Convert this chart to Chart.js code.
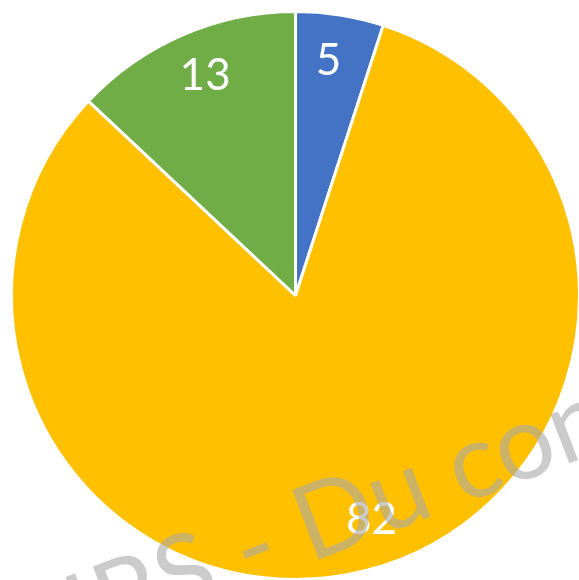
<!DOCTYPE html>
<html>
<head>
<meta charset="utf-8">
<script src="https://cdn.jsdelivr.net/npm/chart.js@4"></script>
<style>
  html, body { margin: 0; padding: 0; background: #fff; overflow: hidden; }
  #wrap { width: 581px; height: 581px; }
</style>
</head>
<body>
<div id="wrap"><canvas id="mc"></canvas></div>
<script>
const labels = ['A', 'B', 'C'];
const values = [5, 82, 13];
const colors = ['#4472C4', '#FFC000', '#70AD47'];
const watermark = ['IRS - ', 'Du con'];

// white value labels inside each slice
const sliceLabels = {
    id: 'sliceLabels',
    afterDatasetsDraw(chart, args, opts) {
        const g = chart.ctx;
        const meta = chart.getDatasetMeta(0);
        g.save();
        g.fillStyle = '#fff';
        g.font = '44px Lato';
        g.textAlign = 'center';
        g.textBaseline = 'middle';
        meta.data.forEach((arc, i) => {
            const p = arc.getProps(['x', 'y', 'startAngle', 'endAngle', 'outerRadius'], true);
            const mid = (p.startAngle + p.endAngle) / 2 + (opts.nudge[i] || 0) * Math.PI / 180;
            const r = p.outerRadius * 0.835;
            g.fillText(String(values[i]), p.x + Math.cos(mid) * r, p.y + Math.sin(mid) * r);
        });
        g.restore();
    }
};

// grey watermark over everything
const stamp = {
    id: 'stamp',
    afterDraw(chart) {
        const g = chart.ctx;
        g.save();
        g.translate(310, 563);
        g.rotate(-21 * Math.PI / 180);
        g.fillStyle = 'rgba(168,168,168,0.6)';
        g.font = '104px Lato';
        g.textBaseline = 'alphabetic';
        g.textAlign = 'right';
        g.fillText(watermark[0], 0, 0);
        g.textAlign = 'left';
        g.fillText(watermark[1], 0, 0);
        g.restore();
    }
};

new Chart(document.getElementById('mc'), {
    type: 'pie',
    data: {
        labels: labels,
        datasets: [{
            data: values,
            backgroundColor: colors,
            borderColor: '#fff',
            borderWidth: 3
        }]
    },
    options: {
        responsive: true,
        maintainAspectRatio: false,
        animation: false,
        layout: { padding: { left: 10, top: 10, right: 0, bottom: 0 } },
        plugins: {
            legend: { display: false },
            tooltip: { enabled: false },
            sliceLabels: { nudge: [-1, -4.3, 1] }
        }
    },
    plugins: [sliceLabels, stamp]
});
</script>
</body>
</html>
